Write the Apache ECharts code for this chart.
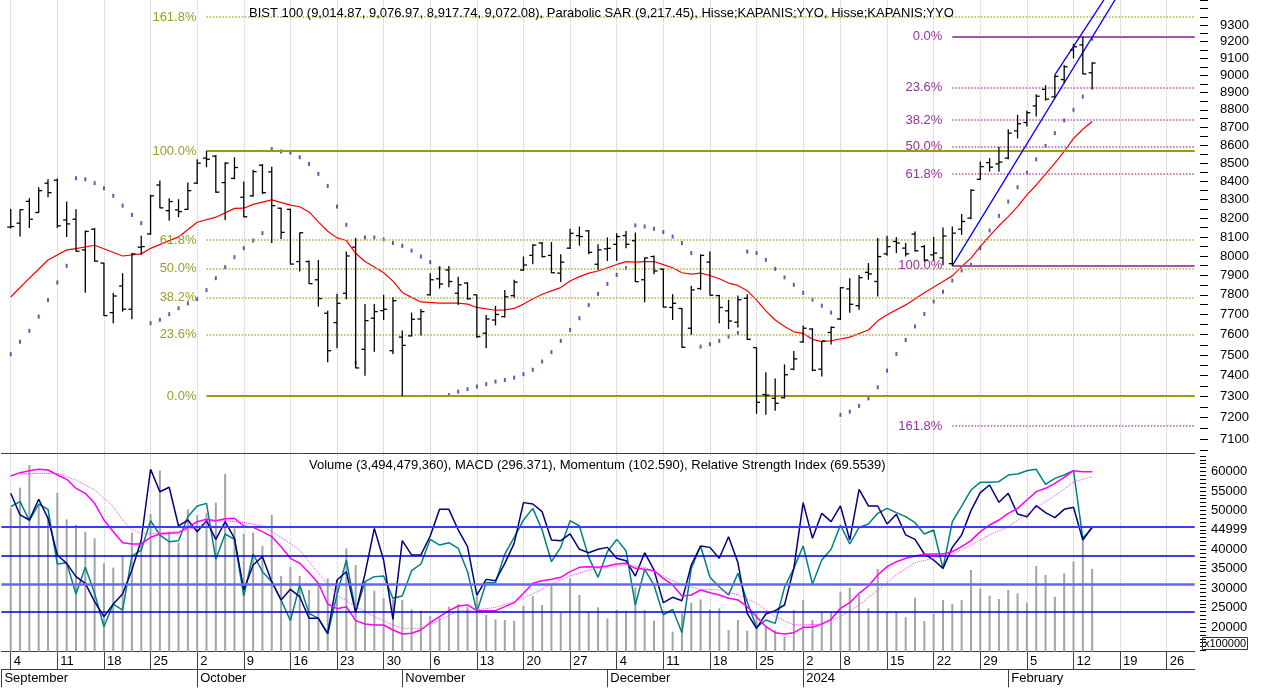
<!DOCTYPE html>
<html><head><meta charset="utf-8">
<script src="https://cdn.jsdelivr.net/npm/echarts@6/dist/echarts.min.js"></script>
<style>html,body{margin:0;padding:0;background:#fff}#c{width:1264px;height:695px}</style>
</head><body><div id="c"></div>
<script>
// ---------- categories (trading weekdays) ----------
const holidays = ['2024-01-01'];
const firstDataDate = '2023-09-04';
const monthNames = ['January','February','March','April','May','June','July','August','September','October','November','December'];

// ---------- price data (BIST 100, daily OHLC) ----------
const opens = [8152,8173,8290,8230,8389,8405,8190,8194,8032,8141,
7963,7710,7845,7727,8046,8116,8379,8240,8244,8247,
8389,8527,8538,8392,8415,8312,8320,8488,8451,8253,
8247,7971,7971,7877,7707,7660,7808,8046,7528,7682,
7720,7521,7588,7594,7678,7800,7882,7927,7808,7860,
7800,7607,7673,7690,7796,7927,8003,8068,8003,7911,
8041,8107,8132,7957,8037,8061,8107,8080,7877,7997,
7932,7736,7731,7632,7832,7968,7796,7719,7662,7782,
7536,7309,7291,7294,7431,7564,7628,7431,7611,7678,
7830,7745,7915,7868,8011,8076,8041,8115,8049,8006,
7990,7960,8141,8200,8410,8502,8495,8527,8680,8727,
8822,8918,8874,8975,9149,9180,9014.87];
const highs = [8249,8248,8307,8367,8410,8415,8289,8247,8134,8147,
7965,7811,7911,8015,8106,8325,8403,8307,8302,8392,
8521,8567,8544,8504,8532,8398,8462,8494,8479,8255,
8249,8124,7976,7979,7720,7805,8023,8094,7754,7754,
7800,7788,7621,7710,7728,7911,7943,7948,7893,7865,
7801,7698,7744,7825,7877,7997,8061,8073,8073,8009,
8143,8155,8137,8061,8097,8119,8132,8124,7992,8003,
7934,7803,7733,7846,8009,8023,7800,7775,7796,7803,
7538,7416,7386,7454,7520,7646,7632,7569,7640,7839,
7885,7902,7963,8094,8106,8099,8068,8129,8057,8100,
8150,8155,8222,8356,8508,8527,8591,8689,8771,8795,
8890,8942,9002,9060,9187,9229,9076.97];
const lows = [8145,8102,8147,8228,8312,8147,8099,8023,7811,7971,
7693,7657,7715,7677,8006,8111,8253,8186,8205,8244,
8385,8477,8337,8190,8410,8205,8315,8329,8068,8089,
7955,7919,7855,7740,7465,7533,7778,7435,7399,7516,
7673,7503,7302,7591,7596,7796,7832,7839,7748,7775,
7585,7533,7646,7685,7785,7922,7957,7992,7911,7865,
8037,8054,8009,7927,7974,7974,8041,7865,7762,7905,
7736,7673,7536,7599,7825,7796,7657,7628,7635,7574,
7218,7214,7232,7291,7426,7560,7421,7395,7552,7673,
7710,7725,7877,7791,8001,8015,7997,8023,7971,7975,
7952,7950,8111,8194,8407,8452,8452,8521,8637,8704,
8761,8853,8871,8954,9100,9006,8917.74];
const closes = [8155,8245,8194,8348,8337,8159,8169,8025,8129,7973,
7695,7794,7727,8011,8049,8320,8255,8289,8235,8348,
8499,8521,8340,8499,8475,8207,8452,8337,8267,8124,
7958,8122,7857,7781,7521,7757,8000,7437,7670,7715,
7727,7770,7547,7677,7715,7877,7855,7868,7851,7780,
7590,7678,7701,7790,7865,7953,8057,7997,7913,7968,
8119,8102,8019,8032,8040,8102,8061,7867,7990,7922,
7738,7757,7538,7825,8003,7798,7736,7668,7775,7577,
7272,7306,7268,7404,7481,7632,7426,7569,7636,7836,
7752,7888,7907,7997,8049,8068,8011,8027,7979,8015,
8105,8120,8182,8350,8480,8477,8505,8667,8720,8783,
8878,8861,8994,9050,9169,9008,9072.08];
// moving average (red)
const sma = [7789,null,7885,null,7979,null,8032,8038,null,8056,
null,null,8000,null,8011,8040,null,null,8100,null,
8178,null,8205,null,8252,8253,8274,null,8298,null,
8270,8261,8233,8180,8130,8095,8081,8014,7971,7943,
7913,7870,7812,7787,7764,null,7758,null,7758,7753,
7736,null,7722,7724,7731,7753,7779,7803,7820,7837,
7871,7893,7911,7922,7939,7956,7971,7968,7971,7971,
7955,7939,7913,7906,7911,7899,7882,7860,7848,7821,
7773,7719,7673,7641,7614,7606,7577,7566,7570,null,
7588,null,7623,7669,7699,null,7749,null,7811,null,
7868,7897,7945,7989,8049,8106,8159,8208,8262,8325,
8379,8439,8499,8564,8637,8689,8733];
// parabolic SAR
const sar = [7504,7565,7619,7690,7773,7863,7949,8416,8410,8389,
8361,8320,8267,8217,8173,7657,7674,7702,7732,7757,
7778,7824,7885,7942,7994,8041,8081,8120,8577,8564,
8558,8532,8495,8440,8374,8262,8164,7462,8097,8097,
8087,8068,8053,8028,7997,7968,7938,7307,7323,7335,
7347,7359,7371,7379,7390,7407,7428,7468,7514,7569,
7624,7682,7748,7805,7856,7902,7937,8161,8155,8143,
8126,8102,8068,8015,7541,7553,7569,7591,7608,8023,
8015,7980,7933,7889,7851,7810,7776,7745,7710,7213,
7228,7255,7291,7344,7424,7505,7574,7641,7703,7766,
7816,7873,7925,7954,8041,8134,8212,8289,8367,8446,
8520,8595,8667,8739,8800,8876,9217.45];
// Fibonacci retracements
const fibRatios = [1.618, 1, 0.618, 0.5, 0.382, 0.236, 0];
const fibOlive = {start: '2023-10-03', high: 8567, low: 7302};   // 0% at low, 100% at high
const fibPurple = {start: '2024-01-24', high: 9229, low: 7950};  // 0% at high, 100% at low
// trend channel (two blue lines)
const channelA = [['2024-01-24', 7950], ['2024-02-19', 9505]];
const channelB = [['2024-02-08', 9002], ['2024-02-16', 9519]];
// price axis labels
const priceLabels = [7100,7200,7300,7400,7500,7600,7700,7800,7900,8000,8100,8200,8300,8400,8500,8600,8700,8800,8900,9000,9100,9200,9300];

// ---------- lower panel ----------
// volume in lots of 100000
const volume = [50530,55840,61670,51390,48390,54560,47700,46250,44530,42820,
36390,35280,38280,44270,41960,49070,60220,44530,41700,50270,
48820,49250,51990,59360,45390,43930,44270,40850,48820,33130,
35530,33130,29530,31250,32530,32110,40250,35960,31680,29360,
27390,27130,26960,24560,24220,22850,22510,25250,25940,25250,
28080,23110,21990,21820,21650,25420,27990,25680,30820,23710,
32530,28250,23960,25080,22250,24390,24220,30220,24390,21650,
22850,18820,23540,26280,27130,24560,24820,19250,21820,19080,
23540,20280,19250,17540,24390,26960,21820,23960,23960,29110,
30130,28250,24820,34930,23960,23960,22510,27560,21560,23360,
26960,25940,26960,34680,29960,28080,27220,29530,28680,26280,
35700,33390,27820,33820,36820,42560,34944.79];
const momentum = [105.73,103.73,103.26,105.18,103.42,100.03,99.25,98.02,97.40,95.71,
94.32,95.49,96.42,98.64,101.41,107.95,105.88,106.29,102.71,103.26,
102.18,103.20,101.47,103.11,101.57,96.79,99.10,99.87,97.56,95.86,
96.85,96.17,94.17,94.17,92.78,97.71,98.48,94.69,98.27,102.49,
99.56,94.07,101.35,100.03,100.03,101.78,104.25,104.25,102.34,100.80,
96.32,97.77,97.65,99.25,101.10,104.87,104.74,104.03,101.41,101.35,
101.97,100.55,100.24,100.55,100.73,99.72,99.50,98.08,100.24,98.64,
95.62,96.11,95.80,99.10,100.86,100.73,99.72,101.72,99.32,94.63,
93.24,94.57,94.88,95.40,98.79,104.87,101.57,103.88,103.11,104.56,
101.41,106.10,104.56,104.56,102.89,103.79,101.88,101.47,100.12,99.56,
98.79,100.73,101.88,104.13,105.79,106.50,104.90,105.73,103.82,103.57,
104.59,103.94,103.48,104.25,104.44,101.41,102.59];
const rsi = [79.47,81.83,72.85,80.73,78.21,52.36,52.99,38.18,50.79,38.49,
22.73,33.45,30.61,56.14,58.98,72.85,66.07,62.92,63.39,74.74,
79.78,81.04,54.57,66.54,64.02,37.23,57.09,48.74,44.01,35.34,
25.57,42.43,29.04,26.67,19.26,37.70,54.25,29.82,44.01,46.37,
46.69,36.13,37.23,49.21,52.36,64.02,61.34,62.45,59.77,48.74,
29.82,43.53,43.53,57.09,64.97,73.16,78.68,68.44,53.46,60.24,
72.85,70.33,55.51,46.06,58.19,64.02,58.66,32.97,49.84,42.43,
28.25,30.93,19.89,50.31,60.87,46.06,41.64,37.70,47.95,34.55,
22.42,25.88,24.31,41.33,50.31,60.87,42.90,54.25,59.30,70.80,
61.82,69.70,71.27,76.32,78.68,76.63,74.74,71.90,66.54,68.44,
50.31,72.38,79.78,87.35,90.97,90.97,91.29,94.44,94.91,96.49,
97.12,90.03,92.86,94.44,96.49,64.50,69.5539];
const macd = [285.0,293.8,299.1,302.6,300.9,287.7,276.2,252.5,239.3,212.9,
168.9,138.1,109.1,105.6,105.6,123.2,131.9,133.7,135.5,149.5,
164.5,170.7,167.1,172.4,173.3,153.1,149.5,138.1,124.9,98.5,
67.7,54.5,29.9,1.8,-52.8,-65.1,-59.8,-96.8,-105.6,-108.2,
-108.2,-121.4,-132.0,-130.2,-121.4,-102.0,-86.2,-70.4,-58.0,-55.4,
-70.4,-70.4,-70.4,-59.8,-49.3,-24.6,1.8,8.8,12.3,17.6,
32.5,44.0,45.7,44.0,47.5,52.8,54.5,41.3,38.7,35.2,
15.0,-2.6,-31.7,-29.0,-15.8,-22.9,-29.0,-37.8,-42.2,-59.8,
-86.2,-112.6,-128.4,-132.0,-128.4,-114.4,-114.4,-105.6,-93.3,-64.2,
-49.3,-24.6,-5.3,23.8,45.7,58.9,67.7,73.9,78.3,79.2,
79.2,85.3,98.5,114.4,138.1,155.7,168.9,186.5,199.7,221.7,
243.7,252.5,265.7,281.5,299.1,296.5,296.371];
const macdSignal = [null,290.3,null,292.1,null,292.1,null,274.5,null,248.1,
null,204.1,168.9,144.3,133.7,131.9,135.5,null,138.1,null,
149.5,164.5,null,167.1,164.5,161.9,null,153.1,null,123.2,
null,89.7,null,28.1,null,-29.0,null,-59.8,null,-86.2,
null,-108.2,-117.0,null,-117.0,null,-95.0,null,-70.4,null,
-68.6,null,-61.6,null,-46.6,null,-26.4,null,0.0,null,
21.1,null,36.9,null,44.0,null,50.2,null,44.0,null,
21.1,null,-2.6,null,-14.1,null,-15.8,null,-29.0,null,
-51.0,null,-86.2,null,-108.2,-108.2,null,-105.6,null,-86.2,
null,-55.4,null,-15.8,null,23.8,null,56.3,null,67.7,
null,79.2,null,102.9,null,129.3,null,151.3,null,184.7,
null,217.3,null,249.8,270.1,276.2,283.3];
const volLabelValues = [20000,25000,30000,35000,40000,45000,50000,55000,60000];
const volLabelText = ['20000','25000','30000','35000','40000','44999','50000','55000','60000'];
const rsiLevels = [70, 30];
const momentumLevel = 100;
const macdLevel = 0;

// ---------- build ----------
const categories = [];
(function(){
  let t = Date.UTC(2023,8,1); const end = Date.UTC(2024,1,29);
  while (t <= end) {
    const d = new Date(t); const dow = d.getUTCDay(); const iso = d.toISOString().slice(0,10);
    if (dow > 0 && dow < 6 && holidays.indexOf(iso) < 0) categories.push(iso);
    t += 86400000;
  }
})();
const dObj = categories.map(s => new Date(s + 'T00:00:00Z'));
const first = categories.indexOf(firstDataDate);
const isWeekStart = i => i > 0 && dObj[i].getUTCDay() <= dObj[i-1].getUTCDay();
const isMonthStart = i => i === 0 || dObj[i].getUTCMonth() !== dObj[i-1].getUTCMonth();
const pad = arr => categories.map((c, i) => { const k = i - first; return (k >= 0 && k < arr.length) ? arr[k] : null; });
const L = v => v == null ? null : Math.log(v);
const lastCat = categories[categories.length - 1];
const FONT = 'Liberation Sans, Arial, sans-serif';

const ohlcData = opens.map((o, k) => [k + first, L(o), L(highs[k]), L(lows[k]), L(closes[k])]);

function fibMarks(fib, olive) {
  const out = [];
  fibRatios.forEach(r => {
    const price = olive ? fib.low + r * (fib.high - fib.low) : fib.high - r * (fib.high - fib.low);
    const solid = (r === 1 || r === 0);
    const col = olive ? (solid ? '#9a9a14' : '#b4b43c') : (solid ? '#a855a8' : '#b060b0');
    out.push([
      {coord: [fib.start, L(price)],
       lineStyle: {color: col, width: solid ? 2 : 1.6, type: solid ? 'solid' : 'dotted'},
       label: {show: true, position: 'start', distance: 10, formatter: (r * 100).toFixed(1) + '%',
               color: olive ? '#9c9c2c' : '#993399', fontSize: 13, fontFamily: FONT}},
      {coord: [lastCat, L(price)]}
    ]);
  });
  return out;
}

const priceTicks = []; for (let v = 7050; v <= 9450; v += 50) priceTicks.push(Math.log(v));
const volTicks = []; for (let v = 14000; v <= 64000; v += 1000) volTicks.push(v);

const chart = echarts.init(document.getElementById('c'));
const dotted = {color: '#c8c8c8', type: 'dotted', width: 1};
chart.setOption({
  animation: false,
  textStyle: {fontFamily: FONT},
  title: [
    {text: 'BIST 100 (9,014.87, 9,076.97, 8,917.74, 9,072.08), Parabolic SAR (9,217.45), Hisse;KAPANIS;YYO, Hisse;KAPANIS;YYO',
     left: 249, top: 7, padding: 0, textStyle: {fontSize: 13, fontWeight: 'normal', color: '#000', fontFamily: FONT}},
    {text: 'Volume (3,494,479,360), MACD (296.371), Momentum (102.590), Relative Strength Index (69.5539)',
     left: 309, top: 459, padding: 0, textStyle: {fontSize: 13, fontWeight: 'normal', color: '#000', fontFamily: FONT}},
    {text: 'x100000', left: 1202, top: 637, padding: [1, 2, 1, 2], borderWidth: 1, borderColor: '#333',
     textStyle: {fontSize: 11, fontWeight: 'normal', color: '#000', fontFamily: FONT}}
  ],
  grid: [
    {left: 1.4, top: 0, width: 1193.3, height: 453},
    {left: 1.4, top: 453, width: 1193.3, height: 198.7}
  ],
  xAxis: [
    {gridIndex: 0, type: 'category', data: categories, boundaryGap: false,
     axisLine: {show: true, onZero: false, lineStyle: {color: '#404040'}}, axisTick: {show: false}, axisLabel: {show: false},
     splitLine: {show: true, interval: i => isWeekStart(i), lineStyle: dotted}},
    {gridIndex: 1, type: 'category', data: categories, boundaryGap: false, position: 'bottom',
     axisLine: {show: true, onZero: false, lineStyle: {color: '#404040'}},
     axisTick: {show: true, interval: i => isWeekStart(i), length: 17.6, lineStyle: {color: '#404040'}},
     axisLabel: {interval: i => isWeekStart(i), formatter: v => String(new Date(v + 'T00:00:00Z').getUTCDate()),
                 align: 'left', margin: 3, padding: [0, 0, 0, 3], fontSize: 13, color: '#000'},
     splitLine: {show: true, interval: i => isWeekStart(i), lineStyle: dotted}},
    {gridIndex: 1, type: 'category', data: categories, boundaryGap: false, position: 'bottom', offset: 17.6,
     axisLine: {show: true, onZero: false, lineStyle: {color: '#404040'}},
     axisTick: {show: true, interval: i => isMonthStart(i), length: 18, lineStyle: {color: '#404040'}},
     axisLabel: {interval: i => isMonthStart(i),
                 formatter: v => { const d = new Date(v + 'T00:00:00Z'); return d.getUTCMonth() === 0 ? String(d.getUTCFullYear()) : monthNames[d.getUTCMonth()]; },
                 align: 'left', margin: 3, padding: [0, 0, 0, 3], fontSize: 13, color: '#000'},
     splitLine: {show: false}}
  ],
  yAxis: [
    {gridIndex: 0, type: 'value', min: Math.log(7035.8), max: Math.log(9452.8), position: 'right', offset: 5.3,
     axisLine: {show: false, onZero: false}, splitLine: {show: false},
     axisTick: {show: true, customValues: priceTicks, length: 8, lineStyle: {color: '#000'}},
     axisLabel: {customValues: priceLabels.map(Math.log), formatter: v => String(Math.round(Math.exp(v))),
                 margin: 20, fontSize: 13, color: '#000'}},
    {gridIndex: 1, type: 'value', min: 13674, max: 64756, position: 'right', offset: 5.3,
     axisLine: {show: false, onZero: false}, splitLine: {show: false},
     axisTick: {show: true, customValues: volTicks, length: 6, lineStyle: {color: '#000'}},
     axisLabel: {customValues: volLabelValues, formatter: v => volLabelText[volLabelValues.indexOf(v)],
                 margin: 11, fontSize: 13, color: '#000'}},
    {gridIndex: 1, type: 'value', min: 10.9, max: 104.85, show: false, axisLine: {onZero: false}},
    {gridIndex: 1, type: 'value', min: 91.08, max: 109.46, show: false, axisLine: {onZero: false}},
    {gridIndex: 1, type: 'value', min: -178.7, max: 345.7, show: false, axisLine: {onZero: false}}
  ],
  series: [
    {name: 'Volume', type: 'bar', xAxisIndex: 1, yAxisIndex: 1, data: pad(volume), barWidth: 2,
     itemStyle: {color: '#a4a4a4'}, silent: true},
    {name: 'RSI', type: 'line', xAxisIndex: 1, yAxisIndex: 2, data: pad(rsi), symbol: 'none', connectNulls: true,
     lineStyle: {color: '#008080', width: 1.5}, z: 4,
     markLine: {silent: true, symbol: ['none', 'none'], label: {show: false},
       data: [{yAxis: rsiLevels[0], lineStyle: {color: '#3c3cff', width: 2, type: 'solid'}},
              {yAxis: rsiLevels[1], lineStyle: {color: '#0000c8', width: 1.5, type: 'solid'}}]}},
    {name: 'Momentum', type: 'line', xAxisIndex: 1, yAxisIndex: 3, data: pad(momentum), symbol: 'none', connectNulls: true,
     lineStyle: {color: '#000080', width: 1.5}, z: 4,
     markLine: {silent: true, symbol: ['none', 'none'], label: {show: false},
       data: [{yAxis: momentumLevel, lineStyle: {color: '#0000c8', width: 1.5, type: 'solid'}}]}},
    {name: 'MACD', type: 'line', xAxisIndex: 1, yAxisIndex: 4, data: pad(macd), symbol: 'none', connectNulls: true,
     lineStyle: {color: '#ff00ff', width: 1.5}, z: 4,
     markLine: {silent: true, symbol: ['none', 'none'], label: {show: false},
       data: [{yAxis: macdLevel, lineStyle: {color: '#6464ff', width: 2.5, type: 'solid'}}]}},
    {name: 'Signal', type: 'line', xAxisIndex: 1, yAxisIndex: 4, data: pad(macdSignal), symbol: 'none', connectNulls: true,
     lineStyle: {color: '#ff40ff', width: 1, type: 'dotted'}, z: 4},
    {name: 'SMA', type: 'line', xAxisIndex: 0, yAxisIndex: 0, data: pad(sma).map(L), symbol: 'none', connectNulls: true,
     lineStyle: {color: '#ff0000', width: 1.2}, z: 3,
     markLine: {silent: true, symbol: ['none', 'none'], data: fibMarks(fibOlive, true)}},
    {name: 'SAR', type: 'scatter', xAxisIndex: 0, yAxisIndex: 0, data: pad(sar).map(L), symbol: 'rect', symbolSize: [2, 4],
     itemStyle: {color: '#35359a'}, z: 3,
     markLine: {silent: true, symbol: ['none', 'none'], data: fibMarks(fibPurple, false)}},
    {name: 'ChannelA', type: 'line', xAxisIndex: 0, yAxisIndex: 0, data: channelA.map(p => [p[0], L(p[1])]),
     symbol: 'none', lineStyle: {color: '#0000ff', width: 1.3}, z: 5, clip: true},
    {name: 'ChannelB', type: 'line', xAxisIndex: 0, yAxisIndex: 0, data: channelB.map(p => [p[0], L(p[1])]),
     symbol: 'none', lineStyle: {color: '#0000ff', width: 1.3}, z: 5, clip: true},
    {name: 'BIST 100', type: 'custom', xAxisIndex: 0, yAxisIndex: 0, data: ohlcData, z: 6,
     encode: {x: 0, y: [1, 2, 3, 4]},
     renderItem: function (params, api) {
       const x = api.value(0);
       const o = api.coord([x, api.value(1)]);
       const h = api.coord([x, api.value(2)]);
       const l = api.coord([x, api.value(3)]);
       const c = api.coord([x, api.value(4)]);
       const st = {stroke: '#000', lineWidth: 1.3};
       return {type: 'group', children: [
         {type: 'line', shape: {x1: h[0], y1: h[1], x2: l[0], y2: l[1]}, style: st},
         {type: 'line', shape: {x1: o[0] - 3.5, y1: o[1], x2: o[0], y2: o[1]}, style: st},
         {type: 'line', shape: {x1: c[0], y1: c[1], x2: c[0] + 3.5, y2: c[1]}, style: st}
       ]};
     }}
  ]
});
</script></body></html>
